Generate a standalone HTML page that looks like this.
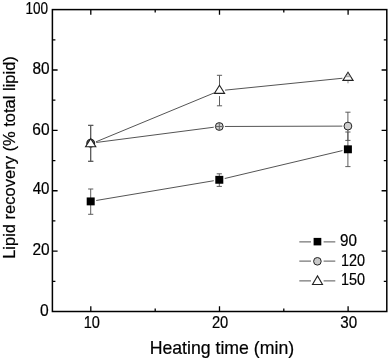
<!DOCTYPE html>
<html lang="en"><head><meta charset="utf-8"><title>Lipid recovery vs heating time</title>
<style>html,body{margin:0;padding:0;background:#fff}svg{display:block}text{font-family:"Liberation Sans",Arial,sans-serif;fill:#000;stroke:#000;stroke-width:0.2px}</style></head><body>
<svg width="388" height="360" viewBox="0 0 388 360">
<rect x="0" y="0" width="388" height="360" fill="#fff"/>
<rect x="52.4" y="9.6" width="334.40" height="301.90" fill="none" stroke="#000" stroke-width="1.5"/>
<path d="M52.4 281.31h3.0M386.8 281.31h-3.0M52.4 251.12h5.2M386.8 251.12h-5.2M52.4 220.93h3.0M386.8 220.93h-3.0M52.4 190.74h5.2M386.8 190.74h-5.2M52.4 160.55h3.0M386.8 160.55h-3.0M52.4 130.36h5.2M386.8 130.36h-5.2M52.4 100.17h3.0M386.8 100.17h-3.0M52.4 69.98h5.2M386.8 69.98h-5.2M52.4 39.79h3.0M386.8 39.79h-3.0M90.80 311.5v-5.2M90.80 9.6v5.2M155.20 311.5v-3.0M155.20 9.6v3.0M219.50 311.5v-5.2M219.50 9.6v5.2M283.80 311.5v-3.0M283.80 9.6v3.0M348.10 311.5v-5.2M348.10 9.6v5.2" stroke="#000" stroke-width="1.3" fill="none"/>
<text transform="translate(25.46 13.58) scale(0.869 1)" font-size="15.6">100</text>
<text transform="translate(32.43 73.96) scale(0.988 1)" font-size="15.6">80</text>
<text transform="translate(32.37 134.52) scale(0.995 1)" font-size="15.6">60</text>
<text transform="translate(32.63 194.40) scale(0.970 1)" font-size="15.6">40</text>
<text transform="translate(32.38 255.44) scale(0.993 1)" font-size="15.6">20</text>
<text transform="translate(40.04 316.00) scale(1.002 1)" font-size="15.6">0</text>
<text transform="translate(83.63 327.88) scale(0.934 1)" font-size="15.6">10</text>
<text transform="translate(211.91 327.72) scale(0.944 1)" font-size="15.6">20</text>
<text transform="translate(340.27 327.72) scale(0.973 1)" font-size="15.6">30</text>
<text transform="translate(340.07 246.28) scale(0.976 1)" font-size="15.6">90</text>
<text transform="translate(341.03 266.44) scale(0.925 1)" font-size="15.6">120</text>
<text transform="translate(341.03 285.40) scale(0.925 1)" font-size="15.6">150</text>
<text x="221.9" y="354.1" font-size="17.7" text-anchor="middle">Heating time (min)</text>
<text transform="translate(14.7 157.5) rotate(-90)" font-size="16.5" text-anchor="middle">Lipid recovery (% total lipid)</text>
<path d="M96.22 200.47L213.78 180.73M224.75 178.51L342.45 150.59" stroke="#555" stroke-width="1" fill="none"/>
<path d="M96.25 142.48L213.75 127.22M224.90 126.48L342.30 126.12" stroke="#555" stroke-width="1" fill="none"/>
<path d="M95.87 141.86L214.33 92.84M225.07 90.14L342.43 78.26" stroke="#555" stroke-width="1" fill="none"/>
<path d="M90.70 189.00V214.30M88.10 189.00h5.2M88.10 214.30h5.2M219.30 173.80V186.40M216.70 173.80h5.2M216.70 186.40h5.2M347.90 132.00V166.60M345.30 132.00h5.2M345.30 166.60h5.2" stroke="#555" stroke-width="0.95" fill="none"/>
<rect x="86.70" y="197.45" width="8" height="7.9" fill="#000"/>
<rect x="215.30" y="175.85" width="8" height="7.9" fill="#000"/>
<rect x="343.90" y="145.35" width="8" height="7.9" fill="#000"/>
<path d="M90.70 125.30V161.30M88.10 125.30h5.2M88.10 161.30h5.2M347.90 112.20V140.40M345.30 112.20h5.2M345.30 140.40h5.2" stroke="#555" stroke-width="0.95" fill="none"/>
<circle cx="90.70" cy="143.20" r="3.8" fill="#888" stroke="#222" stroke-width="1.3"/>
<circle cx="219.30" cy="126.50" r="3.9" fill="#cfcfcf" stroke="#222" stroke-width="1"/>
<circle cx="347.90" cy="126.10" r="3.9" fill="#cfcfcf" stroke="#222" stroke-width="1"/>
<path d="M219.30 122.60v7.8M215.90 126.50h6.8" stroke="#666" stroke-width="1" fill="none"/>
<path d="M90.70 125.40V161.30M88.10 125.40h5.2M88.10 161.30h5.2M219.50 75.30V90.70M219.50 96.10V105.80M216.90 75.30h5.2M216.90 105.80h5.2" stroke="#555" stroke-width="0.95" fill="none"/>
<path d="M90.70 138.60L95.80 146.70H85.60Z" fill="#fff" stroke="#222" stroke-width="1.1" stroke-linejoin="miter"/>
<path d="M219.50 85.30L224.60 93.40H214.40Z" fill="#fff" stroke="#222" stroke-width="1.1" stroke-linejoin="miter"/>
<path d="M348.00 72.30L353.10 80.40H342.90Z" fill="#fff" stroke="#222" stroke-width="1.1" stroke-linejoin="miter"/>
<path d="M348.00 73.50V76.70M345.70 76.70h4.6" stroke="#999" stroke-width="1" fill="none"/>
<path d="M348.00 80.90V83.30" stroke="#888" stroke-width="1" fill="none"/>
<path d="M299.3 241.90H311M323.6 241.90H335.3" stroke="#555" stroke-width="1" fill="none"/>
<rect x="313.6" y="237.90" width="7.7" height="7.5" fill="#000"/>
<path d="M299.3 261.10H311M323.6 261.10H335.3" stroke="#555" stroke-width="1" fill="none"/>
<circle cx="317.4" cy="261.30" r="3.8" fill="#c8c8c8" stroke="#222" stroke-width="1"/>
<path d="M299.3 280.90H311M323.6 280.90H335.3" stroke="#555" stroke-width="1" fill="none"/>
<path d="M317.50 275.90L322.50 284.50H312.50Z" fill="#fff" stroke="#222" stroke-width="1.1" stroke-linejoin="miter"/>
</svg></body></html>
